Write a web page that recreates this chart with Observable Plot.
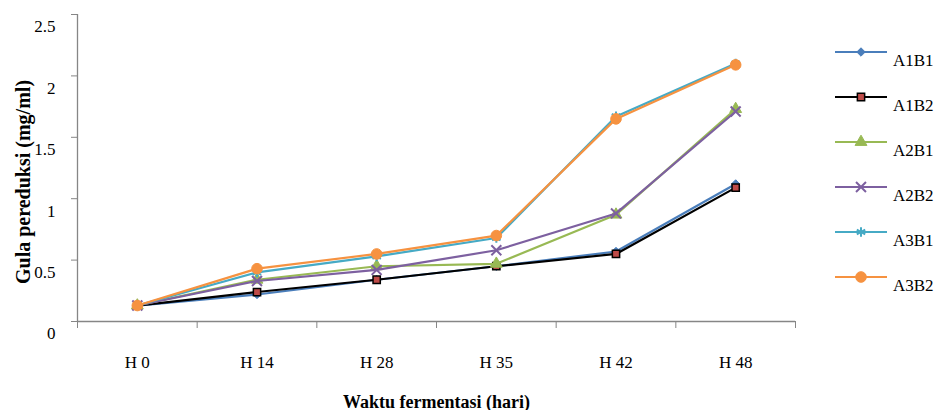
<!DOCTYPE html>
<html>
<head>
<meta charset="utf-8">
<script src="https://cdn.jsdelivr.net/npm/d3@7"></script>
<script src="https://cdn.jsdelivr.net/npm/@observablehq/plot@0.6"></script>
<style>
  html, body { margin: 0; padding: 0; background: white; }
  #wrap { position: relative; width: 936px; height: 410px; font-family: "Liberation Serif", "Times New Roman", serif; }
  #legend { position: absolute; left: 835px; top: 0; }
  .item { position: absolute; left: 0; width: 101px; height: 34px; }
  .item span { position: absolute; left: 58px; font-size: 17px; line-height: 17px; color: #000; white-space: nowrap; }
</style>
</head>
<body>
<div id="wrap"><div id="legend"></div></div>
<script>
// ---- data ----
const categories = ["H 0", "H 14", "H 28", "H 35", "H 42", "H 48"];
const A1B1 = [0.13, 0.22, 0.34, 0.45, 0.57, 1.12];
const A1B2 = [0.13, 0.24, 0.34, 0.45, 0.55, 1.09];
const A2B1 = [0.13, 0.34, 0.45, 0.47, 0.87, 1.73];
const A2B2 = [0.13, 0.33, 0.42, 0.58, 0.88, 1.71];
const A3B1 = [0.13, 0.40, 0.53, 0.68, 1.67, 2.10];
const A3B2 = [0.13, 0.43, 0.55, 0.70, 1.65, 2.09];
const seriesNames = ["A1B1", "A1B2", "A2B1", "A2B2", "A3B1", "A3B2"];
const yTicks = [0, 0.5, 1, 1.5, 2, 2.5];
const yTickLabels = ["0", "0.5", "1", "1.5", "2", "2.5"];
const xTitle = "Waktu fermentasi (hari)";
const yTitle = "Gula pereduksi (mg/ml)";

// ---- styles ----
const styles = {
  A1B1: {line: "#4a7ebb", symbol: "diamond2", fill: "#4a7ebb", stroke: "#4a7ebb", sw: 1, r: 3.8},
  A1B2: {line: "#000000", symbol: "square", fill: "#be4b48", stroke: "#000000", sw: 1.5, r: 4.1},
  A2B1: {line: "#98b954", symbol: "triangle", fill: "#98b954", stroke: "#98b954", sw: 1, r: 4.4},
  A2B2: {line: "#7d60a0", symbol: "times", fill: "none", stroke: "#7d60a0", sw: 2, r: 4.6},
  A3B1: {line: "#46aac5", symbol: "asterisk", fill: "none", stroke: "#46aac5", sw: 2, r: 4.6},
  A3B2: {line: "#f69240", symbol: "circle", fill: "#f69240", stroke: "#f69240", sw: 1, r: 5.3}
};
const valuesBy = {A1B1, A1B2, A2B1, A2B2, A3B1, A3B2};

const idx = d3.range(categories.length);
const boundaries = d3.range(categories.length + 1).map(i => i - 0.5);
const gray = "#868686";
const fontFamily = "'Liberation Serif', 'Times New Roman', serif";

const marks = [];
// axis lines
marks.push(Plot.ruleY([0], {stroke: gray, strokeWidth: 1.3}));
marks.push(Plot.ruleX([-0.5], {stroke: gray, strokeWidth: 1.3}));
// series
for (const name of seriesNames) {
  const s = styles[name];
  const data = idx.map(i => ({i, v: valuesBy[name][i]}));
  marks.push(Plot.line(data, {x: "i", y: "v", stroke: s.line, strokeWidth: 2.2}));
  marks.push(Plot.dot(data, {x: "i", y: "v", symbol: () => s.symbol, r: s.r, fill: s.fill, stroke: s.stroke, strokeWidth: s.sw}));
}
// x category labels
marks.push(Plot.text(idx, {x: d => d, frameAnchor: "bottom", lineAnchor: "middle", textAnchor: "middle", dy: 41.5, text: d => categories[d], fill: "#000", fontSize: 17}));
// y tick labels
marks.push(Plot.text(yTicks, {x: -0.5, y: d => d, text: (d, i) => yTickLabels[i], textAnchor: "end", lineAnchor: "middle", dx: -22, dy: 12.5, fill: "#000", fontSize: 17}));
// titles
marks.push(Plot.text([xTitle], {frameAnchor: "bottom", lineAnchor: "middle", textAnchor: "middle", dy: 80.5, text: d => d, fill: "#000", fontWeight: "bold", fontSize: 18}));
marks.push(Plot.text([yTitle], {frameAnchor: "left", lineAnchor: "middle", textAnchor: "middle", rotate: -90, dx: -53.5, dy: 14, text: d => d, fill: "#000", fontWeight: "bold", fontSize: 20}));

const chart = Plot.plot({
  width: 936,
  height: 410,
  marginLeft: 77,
  marginRight: 141,
  marginTop: 14,
  marginBottom: 89,
  style: {fontFamily, fontSize: "14px", background: "white", color: gray, overflow: "visible"},
  x: {type: "linear", domain: [-0.5, categories.length - 0.5], ticks: boundaries, tickSize: 7, tickFormat: () => "", label: null},
  y: {domain: [0, 2.5], ticks: yTicks, tickSize: 6, tickFormat: () => "", label: null},
  marks
});
document.getElementById("wrap").prepend(chart);
chart.style.position = "absolute";
chart.style.left = "0";
chart.style.top = "0";

// ---- legend ----
const legend = d3.select("#legend");
const symMap = {diamond2: d3.symbolDiamond2, square: d3.symbolSquare, triangle: d3.symbolTriangle, times: d3.symbolTimes, asterisk: d3.symbolAsterisk, circle: d3.symbolCircle};
seriesNames.forEach((name, k) => {
  const s = styles[name];
  const item = legend.append("div").attr("class", "item").style("top", (37 + 45 * k) + "px");
  const svg = item.append("svg").attr("width", 54).attr("height", 30).style("position", "absolute").style("left", 0).style("top", 0);
  svg.append("line").attr("x1", 0).attr("x2", 52).attr("y1", 15).attr("y2", 15).attr("stroke", s.line).attr("stroke-width", 2.2);
  svg.append("path").attr("transform", "translate(26,15)")
    .attr("d", d3.symbol(symMap[s.symbol], Math.PI * s.r * s.r)())
    .attr("fill", s.fill).attr("stroke", s.stroke).attr("stroke-width", s.sw);
  item.append("span").style("top", "15px").text(name);
});
</script>
</body>
</html>
